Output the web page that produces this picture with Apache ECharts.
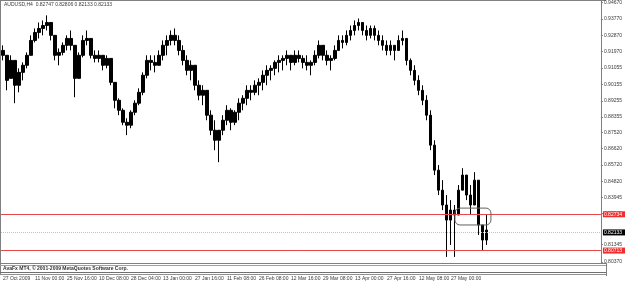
<!DOCTYPE html>
<html><head><meta charset="utf-8">
<script src="https://cdn.jsdelivr.net/npm/echarts@6/dist/echarts.min.js"></script>
<style>html,body{margin:0;padding:0;background:#fff;overflow:hidden}#c{width:625px;height:283px}</style>
</head><body><div id="c"></div>
<script>
// ---- data ----
const headerText = 'AUDUSD,H4  0.82747 0.82806 0.82133 0.82133';
const footerText = 'AvaFx MT4, \u00a9 2001-2009 MetaQuotes Software Corp.';
const xTickLabels = ['27 Oct 2009','11 Nov 00:00','25 Nov 16:00','10 Dec 08:00','28 Dec 04:00','13 Jan 00:00','27 Jan 16:00','11 Feb 08:00','26 Feb 08:00','12 Mar 16:00','29 Mar 08:00','13 Apr 00:00','27 Apr 16:00','12 May 08:00','27 May 00:00'];
const barsPerLabel = 8;
const totalSlots = 150;
const opens  = [0.9203,0.9176,0.9049,0.9148,0.9011,0.9082,0.9121,0.9176,0.9258,0.9302,0.9324,0.9340,0.9357,0.9286,0.9176,0.9192,0.9231,0.9269,0.9231,0.9049,0.9176,0.9258,0.9269,0.9176,0.9159,0.9176,0.9121,0.9159,0.9027,0.8928,0.8873,0.8807,0.8791,0.8862,0.8912,0.8972,0.9066,0.9148,0.9137,0.9121,0.9176,0.9231,0.9258,0.9286,0.9258,0.9203,0.9148,0.9093,0.9121,0.9011,0.8956,0.8983,0.8846,0.8763,0.8708,0.8763,0.8818,0.8873,0.8807,0.8862,0.8912,0.8939,0.8983,0.8972,0.9011,0.9027,0.9066,0.9093,0.9104,0.9137,0.9148,0.9159,0.9176,0.9137,0.9176,0.9159,0.9137,0.9121,0.9137,0.9176,0.9231,0.9176,0.9148,0.9159,0.9203,0.9258,0.9247,0.9286,0.9313,0.9340,0.9357,0.9313,0.9286,0.9324,0.9286,0.9258,0.9231,0.9203,0.9231,0.9203,0.9258,0.9269,0.9148,0.9093,0.9038,0.8983,0.8928,0.8846,0.8681,0.8543,0.8433,0.8351,0.8268,0.8323,0.8296,0.8433,0.8516,0.8406,0.8351,0.8488,0.8241,0.8158];
const closes = [0.9176,0.9038,0.9148,0.9011,0.9082,0.9121,0.9176,0.9258,0.9302,0.9324,0.9340,0.9357,0.9286,0.9176,0.9192,0.9231,0.9269,0.9231,0.9049,0.9176,0.9258,0.9269,0.9176,0.9159,0.9176,0.9121,0.9159,0.9027,0.8928,0.8873,0.8807,0.8791,0.8862,0.8912,0.8972,0.9066,0.9148,0.9137,0.9121,0.9176,0.9231,0.9258,0.9286,0.9258,0.9203,0.9148,0.9093,0.9121,0.9011,0.8956,0.8983,0.8846,0.8763,0.8708,0.8763,0.8818,0.8873,0.8807,0.8862,0.8912,0.8939,0.8983,0.8972,0.9011,0.9027,0.9066,0.9093,0.9104,0.9137,0.9148,0.9159,0.9176,0.9137,0.9176,0.9159,0.9137,0.9121,0.9137,0.9176,0.9231,0.9176,0.9148,0.9159,0.9203,0.9258,0.9247,0.9286,0.9313,0.9340,0.9357,0.9313,0.9286,0.9324,0.9286,0.9258,0.9231,0.9203,0.9231,0.9203,0.9258,0.9269,0.9148,0.9093,0.9038,0.8983,0.8928,0.8846,0.8681,0.8543,0.8433,0.8351,0.8268,0.8323,0.8296,0.8433,0.8516,0.8406,0.8351,0.8488,0.8241,0.8158,0.82133];
const lows   = [0.9148,0.8983,0.9049,0.8912,0.8972,0.9038,0.9104,0.9176,0.9247,0.9269,0.9286,0.9313,0.9258,0.9148,0.9121,0.9176,0.9203,0.9203,0.8945,0.9049,0.9165,0.9231,0.9159,0.9137,0.9137,0.9093,0.9104,0.9011,0.8884,0.8846,0.8791,0.8736,0.8774,0.8846,0.8901,0.8956,0.9049,0.9093,0.9082,0.9121,0.9148,0.9176,0.9231,0.9231,0.9176,0.9121,0.9066,0.9038,0.8983,0.8928,0.8901,0.8818,0.8736,0.8653,0.8587,0.8736,0.8791,0.8763,0.8791,0.8818,0.8873,0.8901,0.8928,0.8956,0.8956,0.8983,0.9011,0.9038,0.9066,0.9082,0.9093,0.9121,0.9093,0.9121,0.9137,0.9104,0.9093,0.9066,0.9121,0.9159,0.9148,0.9121,0.9093,0.9148,0.9203,0.9214,0.9231,0.9258,0.9286,0.9313,0.9286,0.9258,0.9269,0.9258,0.9231,0.9203,0.9176,0.9176,0.9148,0.9203,0.9231,0.9121,0.9066,0.9011,0.8956,0.8901,0.8818,0.8653,0.8516,0.8406,0.8323,0.8065,0.8131,0.8065,0.8296,0.8433,0.8378,0.8296,0.8406,0.8186,0.8103,0.8131];
const highs  = [0.9231,0.9176,0.9176,0.9148,0.9104,0.9137,0.9192,0.9286,0.9324,0.9357,0.9368,0.9396,0.9357,0.9286,0.9214,0.9247,0.9286,0.9313,0.9231,0.9192,0.9286,0.9313,0.9269,0.9203,0.9203,0.9176,0.9176,0.9159,0.9027,0.8939,0.8884,0.8829,0.8873,0.8928,0.8994,0.9082,0.9176,0.9176,0.9176,0.9203,0.9258,0.9286,0.9313,0.9324,0.9286,0.9231,0.9176,0.9148,0.9121,0.9038,0.9011,0.8983,0.8873,0.8818,0.8763,0.8846,0.8901,0.8884,0.8873,0.8939,0.8956,0.9011,0.9011,0.9038,0.9049,0.9093,0.9121,0.9121,0.9148,0.9176,0.9176,0.9203,0.9176,0.9203,0.9203,0.9176,0.9176,0.9148,0.9203,0.9258,0.9231,0.9203,0.9176,0.9231,0.9286,0.9286,0.9313,0.9340,0.9368,0.9379,0.9357,0.9340,0.9340,0.9340,0.9313,0.9286,0.9258,0.9258,0.9231,0.9286,0.9313,0.9269,0.9159,0.9121,0.9066,0.9011,0.8956,0.8873,0.8708,0.8571,0.8488,0.8406,0.8378,0.8351,0.8461,0.8554,0.8516,0.8461,0.8532,0.8488,0.8241,0.8296];
const yTickValues = [0.9467,0.9377,0.9287,0.9197,0.91055,0.90155,0.89255,0.88355,0.8752,0.8662,0.8572,0.8482,0.83945,0.83045,0.81345,0.8037];
const yMin = 0.80315, yMax = 0.9478;
const redLevels = [0.82734, 0.80713];
const bidPrice = 0.82133;
const boxIndex = [113, 121];
const boxPrice = [0.8334, 0.8241];

// ---- build ----
const categories = [];
for (let i = 0; i < totalSlots; i++) categories.push(String(i));
const candles = [];
for (let i = 0; i < totalSlots; i++) {
  if (i < opens.length) candles.push([opens[i], closes[i], lows[i], highs[i]]);
  else candles.push('-');
}
const FONT = 'Liberation Sans';
const TXT = '#3a3a3a';
const chart = echarts.init(document.getElementById('c'), null, {renderer: 'canvas'});
const lvlLabel = (bg, txt) => ({show: true, position: 'end', formatter: txt, backgroundColor: bg, color: '#fff',
  fontSize: 5, fontFamily: FONT, padding: [1, 4, 0, 1], distance: 2});
chart.setOption({
  animation: false,
  backgroundColor: '#fff',
  grid: {left: 0, right: 19, top: 0, bottom: 20, containLabel: false},
  xAxis: {
    type: 'category', data: categories, boundaryGap: true,
    axisLine: {show: false}, axisTick: {show: false}, splitLine: {show: false},
    axisLabel: {interval: 0, align: 'left', margin: 13, fontSize: 5, fontFamily: FONT, color: TXT,
      formatter: (v, i) => (i % barsPerLabel === 0 && xTickLabels[i / barsPerLabel]) ? xTickLabels[i / barsPerLabel] : ''}
  },
  yAxis: {
    type: 'value', position: 'right', min: yMin, max: yMax, scale: true,
    axisLine: {show: true, lineStyle: {color: '#808080', width: 1}},
    axisTick: {show: true, length: 2, customValues: yTickValues, lineStyle: {color: '#808080'}},
    splitLine: {show: false},
    axisLabel: {customValues: yTickValues, margin: 3, fontSize: 5, fontFamily: FONT, color: TXT,
      formatter: v => v.toFixed(5)}
  },
  series: [{
    type: 'candlestick', data: candles, barWidth: 2.6,
    itemStyle: {color: '#000', color0: '#000', borderColor: '#000', borderColor0: '#000', borderWidth: 1},
    markLine: {
      silent: true, symbol: ['none', 'none'], animation: false,
      data: [
        {yAxis: redLevels[0], lineStyle: {color: '#e84848', width: 1, type: 'solid'}, label: lvlLabel('#f02c2c', redLevels[0].toFixed(5))},
        {yAxis: bidPrice, lineStyle: {color: '#c0c0c0', width: 1, type: 'dotted'}, label: lvlLabel('#000', bidPrice.toFixed(5))},
        {yAxis: redLevels[1], lineStyle: {color: '#e84848', width: 1, type: 'solid'}, label: lvlLabel('#f02c2c', redLevels[1].toFixed(5))}
      ]
    }
  }]
});
const p1 = chart.convertToPixel({xAxisIndex: 0, yAxisIndex: 0}, [boxIndex[0], boxPrice[0]]);
const p2 = chart.convertToPixel({xAxisIndex: 0, yAxisIndex: 0}, [boxIndex[1], boxPrice[1]]);
chart.setOption({
  graphic: [
    {type: 'rect', shape: {x: p1[0], y: p1[1], width: p2[0] - p1[0] + 4, height: p2[1] - p1[1], r: 5},
      style: {fill: 'none', stroke: '#606060', lineWidth: 1}, z: 10},
    {type: 'text', left: 4, top: 2, style: {text: headerText, fontSize: 5, fontFamily: FONT, fill: TXT}},
    {type: 'line', shape: {x1: 0.5, y1: 0, x2: 0.5, y2: 274}, style: {stroke: '#808080', lineWidth: 1}},
    {type: 'line', shape: {x1: 0, y1: 0.5, x2: 606, y2: 0.5}, style: {stroke: '#808080', lineWidth: 1}},
    {type: 'line', shape: {x1: 0, y1: 263.5, x2: 606, y2: 263.5}, style: {stroke: '#808080', lineWidth: 1}},
    {type: 'line', shape: {x1: 0, y1: 265.5, x2: 606, y2: 265.5}, style: {stroke: '#a0a0a0', lineWidth: 1}},
    {type: 'line', shape: {x1: 0, y1: 272.5, x2: 606, y2: 272.5}, style: {stroke: '#707070', lineWidth: 1}},
    {type: 'line', shape: {x1: 0, y1: 274.5, x2: 606, y2: 274.5}, style: {stroke: '#909090', lineWidth: 1}},
    {type: 'line', shape: {x1: 606.5, y1: 263, x2: 606.5, y2: 276}, style: {stroke: '#808080', lineWidth: 1}},
    {type: 'text', left: 3, top: 266.5, style: {text: footerText, fontSize: 5, fontWeight: 'bold', fontFamily: FONT, fill: '#333'}}
  ]
});
</script></body></html>
